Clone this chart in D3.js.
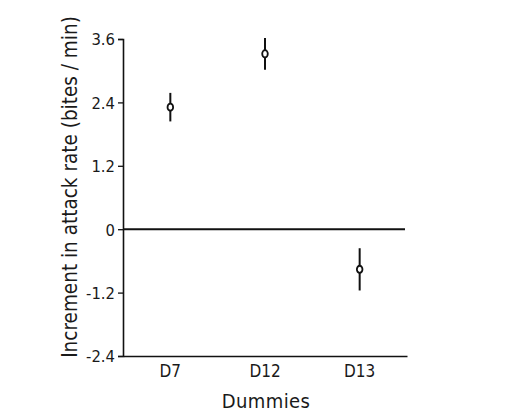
<!DOCTYPE html>
<html><head><meta charset="utf-8">
<script src="https://cdn.jsdelivr.net/npm/d3@7"></script>
<style>
body{margin:0;background:#fff;}
text{font-family:"DejaVu Sans",sans-serif;font-stretch:condensed;fill:#1a1a1a;}
</style></head>
<body><svg id="c" width="530" height="414"></svg>
<script>
const categories = ["D7","D12","D13"];
const means = [2.31, 3.32, -0.76];
const errors = [0.27, 0.30, 0.40];
const yTicks = [3.6, 2.4, 1.2, 0, -1.2, -2.4];
const yTickLabels = ["3.6","2.4","1.2","0","-1.2","-2.4"];

(function(){
const svg = d3.select("#c");
const mLeft = 123, mRight = 407, mTop = 39, mBottom = 356;
const x = d3.scaleBand().domain(categories).range([mLeft, mRight]).padding(0);
const y = d3.scaleLinear().domain([-2.4, 3.6]).range([mBottom, mTop]);

// y axis
const yAx = svg.append("g").attr("transform", `translate(${mLeft},0)`)
  .call(d3.axisLeft(y).tickValues(yTicks).tickFormat((d,i)=>yTickLabels[i]).tickSize(5).tickPadding(3));
yAx.select(".domain").attr("stroke","#111").attr("stroke-width",1.6);
yAx.selectAll(".tick line").attr("stroke","#111").attr("stroke-width",1.3);
yAx.selectAll(".tick text").attr("font-size",16.5).attr("dy","0.36em").attr("fill","#1a1a1a")
  .style("font-family","'DejaVu Sans',sans-serif").style("font-stretch","condensed");

// x axis
const xAx = svg.append("g").attr("transform", `translate(0,${mBottom})`)
  .call(d3.axisBottom(x).tickSize(0).tickPadding(0));
xAx.select(".domain").attr("stroke","#111").attr("stroke-width",1.6);
xAx.selectAll(".tick text").attr("font-size",17).attr("dy",0).attr("y",21).attr("fill","#1a1a1a")
  .style("font-family","'DejaVu Sans',sans-serif").style("font-stretch","condensed");

// zero line
svg.append("line").attr("x1",mLeft).attr("x2",mRight-2).attr("y1",y(0)).attr("y2",y(0))
  .attr("stroke","#111").attr("stroke-width",2);

// error bars
const g = svg.append("g");
categories.forEach((c,i)=>{
  const cx = x(c)+x.bandwidth()/2;
  g.append("line").attr("x1",cx).attr("x2",cx)
    .attr("y1",y(means[i]+errors[i])).attr("y2",y(means[i]-errors[i]))
    .attr("stroke","#111").attr("stroke-width",2);
  g.append("ellipse").attr("cx",cx).attr("cy",y(means[i])).attr("rx",2.8).attr("ry",3.6)
    .attr("fill","#fff").attr("stroke","#111").attr("stroke-width",1.8);
});

// labels
svg.append("text").attr("x",266).attr("y",408).attr("text-anchor","middle")
  .attr("font-size",20).attr("letter-spacing",0.4).text("Dummies");
svg.append("text").attr("transform",`translate(77,187) rotate(-90)`)
  .attr("text-anchor","middle").attr("font-size",20.5).text("Increment in attack rate (bites / min)");
})();
</script></body></html>
